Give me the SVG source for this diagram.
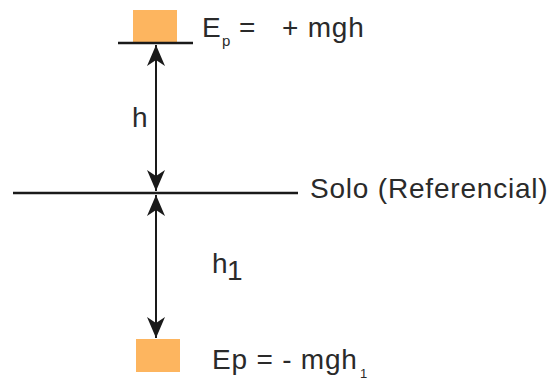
<svg xmlns="http://www.w3.org/2000/svg" width="560" height="380" viewBox="0 0 560 380">
<style>
.t{font-family:"Liberation Sans",Arial,sans-serif;font-size:28px;fill:#2a2a2a;letter-spacing:0.8px}
.s{font-family:"Liberation Sans",Arial,sans-serif;fill:#2a2a2a}
.box{fill:#FDB55F}
.ln{stroke:#1a1a1a;stroke-width:2.5;fill:none}
.ar{stroke:#1a1a1a;stroke-width:2;fill:none;marker-end:url(#ah);marker-start:url(#ah)}
</style>
<defs>
<marker id="ah" markerUnits="userSpaceOnUse" markerWidth="24" markerHeight="24" viewBox="-22 -11 24 22" refX="0" refY="0" orient="auto-start-reverse">
<path d="M0,0 L-21,-9 L-15,0 L-21,9 Z" fill="#1a1a1a"/>
</marker>
</defs>
<g id="ground">
<line class="ln" x1="13" y1="193" x2="298" y2="193"/>
<text class="t" x="310" y="198">Solo (Referencial)</text>
</g>
<g id="top-mass">
<rect class="box" x="133" y="10" width="44" height="32"/>
<line class="ln" x1="118" y1="43" x2="193" y2="43"/>
<text class="t" x="202" y="37">E</text>
<text class="s" x="222" y="46" font-size="15">p</text>
<text class="t" x="239" y="37">=</text>
<text class="t" x="282" y="37">+ mgh</text>
</g>
<g id="bottom-mass">
<rect class="box" x="136" y="339" width="44" height="33"/>
<text class="t" x="212" y="369">Ep = - mgh</text>
<text class="s" x="360" y="378" font-size="13">1</text>
</g>
<g id="connectors">
<line class="ar" x1="156" y1="45" x2="156" y2="191"/>
<line class="ar" x1="156" y1="195" x2="156" y2="338"/>
</g>
<g id="labels">
<text class="t" x="132" y="127">h</text>
<text class="t" x="212" y="273">h</text>
<text class="t" x="227" y="280">1</text>
</g>
</svg>
